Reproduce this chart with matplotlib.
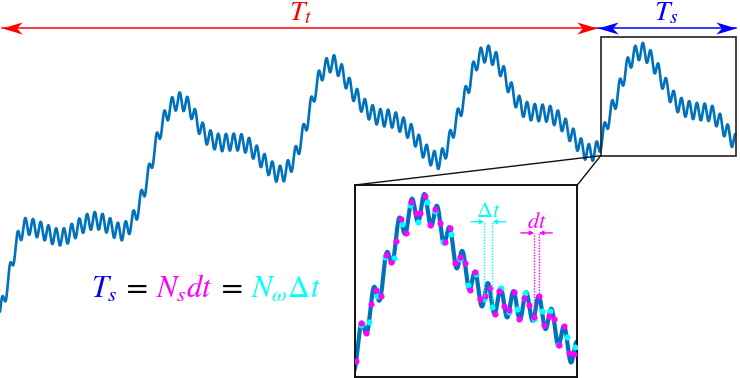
import numpy as np
import matplotlib
matplotlib.use("Agg")
import matplotlib.pyplot as plt
from matplotlib.path import Path
from matplotlib.patches import Rectangle, ConnectionPatch

plt.rcParams['mathtext.fontset'] = 'stix'
plt.rcParams['font.family'] = ['STIXGeneral', 'DejaVu Sans']

# ---------------- data ----------------
# slow component of the signal (time, level); level axis points downwards
trend_t = [0, 5, 12, 18, 25, 35, 45, 55, 65, 75, 85, 95, 105, 115, 122, 128,
           135, 140, 145, 150, 155, 160, 165, 170, 175, 180, 190, 197, 205,
           212, 220, 230, 240, 248, 255, 262, 270, 278, 285, 292, 297, 302,
           307, 312, 318, 323, 330, 335, 340, 345, 350, 357, 363, 370, 380,
           390, 398, 405, 412, 418, 425, 432, 438, 443, 448, 452, 458, 463,
           468, 473, 478, 485, 492, 498, 503, 510, 516, 522, 530, 540, 548,
           560, 570, 578, 585, 590, 595, 598, 605, 610, 615, 620, 625, 630,
           636, 642, 648, 655, 662, 668, 675, 682, 690, 700, 708, 714, 720,
           727, 733, 735.7]
trend_y = [313, 297, 262, 237, 225, 228, 232, 237, 237, 230, 223, 220, 223,
           230, 233, 228, 217, 203, 187, 170, 147, 130, 117, 108, 102, 100,
           107, 122, 135, 140, 143, 142, 142, 145, 152, 160, 168, 175, 173,
           163, 152, 137, 122, 102, 80, 70, 63, 63, 70, 78, 88, 97, 106, 112,
           118, 118, 122, 127, 133, 142, 152, 158, 162, 157, 145, 133, 117,
           102, 88, 70, 58, 53, 55, 63, 73, 88, 100, 108, 112, 113, 113, 120,
           133, 143, 152, 153, 152, 150, 130, 113, 103, 87, 72, 60, 53, 50,
           55, 65, 80, 90, 102, 107, 110, 112, 112, 115, 122, 132, 140, 144]
ripple_period = 7.72
ripple_amp = 8.5
ripple_peak_t = 218.3

T_t = 600.7          # long window
T_s = 135.0          # zoomed window
N_s = 45             # fine samples in T_s
N_w = 27             # coarse samples in T_s
window_level = (37.3, 155.7)
fast_offset = 0.25
slow_offset = 0.7
dt_pair_time = 711.0
Dt_pair_time = 681.7

# formula pieces and their colours
formula_pieces = [r'$T_s$', '=', r'$N_s dt$', '=', r'$N_\omega \Delta t$']
formula_colors = ['blue', 'black', 'magenta', 'black', 'cyan']

# ---------------- signal ----------------
t = np.linspace(0, T_t + T_s, 7358)
trend = np.interp(t, trend_t, trend_y)
# light smoothing of the hand-read slow component
step = t[1] - t[0]
kx = np.arange(-60, 61) * step
kern = np.exp(-0.5 * (kx / 2.2) ** 2)
kern /= kern.sum()
padded = np.concatenate([np.full(60, trend[0]), trend, np.full(60, trend[-1])])
trend = np.convolve(padded, kern, mode='valid')
sig = trend - ripple_amp * np.cos(2 * np.pi * (t - ripple_peak_t) / ripple_period)

dt = T_s / N_s
Dt = T_s / N_w
t_fast = T_t + (np.arange(N_s) + fast_offset) * dt
t_slow = T_t + (np.arange(N_w) + slow_offset) * Dt
y_fast = np.interp(t_fast, t, sig)
y_slow = np.interp(t_slow, t, sig)

# ---------------- figure ----------------
fig = plt.figure(figsize=(7.4, 3.78), dpi=100)
ax = fig.add_axes([0, 0, 1, 1])
ax.set_xlim(0, 740)
ax.set_ylim(378, 0)
ax.axis('off')

curve_color = '#0072BD'
ax.plot(t, sig, color=curve_color, lw=1.9, solid_capstyle='round', zorder=3)

# zoom window box
ax.add_patch(Rectangle((T_t, window_level[0]), T_s,
                       window_level[1] - window_level[0],
                       fill=False, ec='#222222', lw=1.2, zorder=4))


def stealth(direction):
    v = np.array([[0, 0], [-1, 0.3], [-0.72, 0], [-1, -0.3], [0, 0]], float)
    v[:, 0] *= direction
    return Path(v, [Path.MOVETO, Path.LINETO, Path.LINETO, Path.LINETO,
                    Path.CLOSEPOLY])


def dbl_arrow(x0, x1, y, color):
    ax.plot([x0, x1], [y, y], color=color, lw=1.1, zorder=5)
    ax.plot([x0], [y], marker=stealth(-1), ms=29, color=color, mew=0,
            linestyle='none', zorder=6)
    ax.plot([x1], [y], marker=stealth(1), ms=29, color=color, mew=0,
            linestyle='none', zorder=6)


arrow_level = 28.3
dbl_arrow(1.5, T_t - 4.0, arrow_level, 'red')
dbl_arrow(T_t - 3.0, T_t + T_s, arrow_level, 'blue')
ax.text(T_t / 2, 20.5, r'$T_t$', color='red', fontsize=20,
        ha='center', va='baseline')
ax.text(T_t - 3.0 + (T_s + 3.0) / 2, 20.5, r'$T_s$', color='blue',
        fontsize=20, ha='center', va='baseline')

# formula built from coloured pieces (centres of each piece along the line)
piece_centres = [104, 137.5, 184.5, 232.5, 286]
for s, c, xc in zip(formula_pieces, formula_colors, piece_centres):
    if s == '=':
        ax.text(xc, 298, s, color=c, fontsize=21, ha='center',
                va='baseline', family='DejaVu Sans')
    else:
        ax.text(xc, 298, s, color=c, fontsize=22, ha='center',
                va='baseline')

# ---------------- inset ----------------
ax_in = fig.add_axes([355 / 740, 1 - 376.7 / 378, 222.3 / 740, 191.7 / 378])
ax_in.set_xlim(T_t, T_t + T_s)
ax_in.set_ylim(window_level[1], window_level[0])
ax_in.set_xticks([])
ax_in.set_yticks([])
for sp in ax_in.spines.values():
    sp.set_linewidth(1.4)
    sp.set_color('#111111')
ax_in.plot(t, sig, color=curve_color, lw=3.0, zorder=2)
ax_in.plot(t_slow, y_slow, 'o', color='cyan', ms=4.4, mew=0, zorder=3)
ax_in.plot(t_fast, y_fast, 'o', color='magenta', ms=4.4, mew=0, zorder=4)

for pair_time, ts, ys, col, lab, lvl in [
        (Dt_pair_time, t_slow, y_slow, 'cyan', r'$\Delta t$', 60.0),
        (dt_pair_time, t_fast, y_fast, 'magenta', r'$dt$', 66.9)]:
    mids = (ts[:-1] + ts[1:]) / 2
    i = int(np.argmin(np.abs(mids - pair_time)))
    for k in (i, i + 1):
        ax_in.plot([ts[k], ts[k]], [ys[k], lvl], color=col, lw=1.0,
                   ls=(0, (1, 1)), zorder=5)
    ax_in.annotate('', xy=(ts[i], lvl), xytext=(-9.5, 0),
                   textcoords='offset points',
                   arrowprops=dict(arrowstyle='-|>', color=col, lw=1.0,
                                   shrinkA=0, shrinkB=0, mutation_scale=6))
    ax_in.annotate('', xy=(ts[i + 1], lvl), xytext=(9.5, 0),
                   textcoords='offset points',
                   arrowprops=dict(arrowstyle='-|>', color=col, lw=1.0,
                                   shrinkA=0, shrinkB=0, mutation_scale=6))
    ax_in.annotate(lab, xy=((ts[i] + ts[i + 1]) / 2, lvl), xytext=(0, 3.5),
                   textcoords='offset points', ha='center', va='baseline',
                   color=col, fontsize=16)

# connector lines from the window corner to the inset top corners
for corner in [(0, 1), (1, 1)]:
    cp = ConnectionPatch(xyA=(T_t, window_level[1]), coordsA=ax.transData,
                         xyB=corner, coordsB=ax_in.transAxes,
                         color='#111111', lw=1.0)
    fig.add_artist(cp)

fig.savefig('out.png', dpi=100)
